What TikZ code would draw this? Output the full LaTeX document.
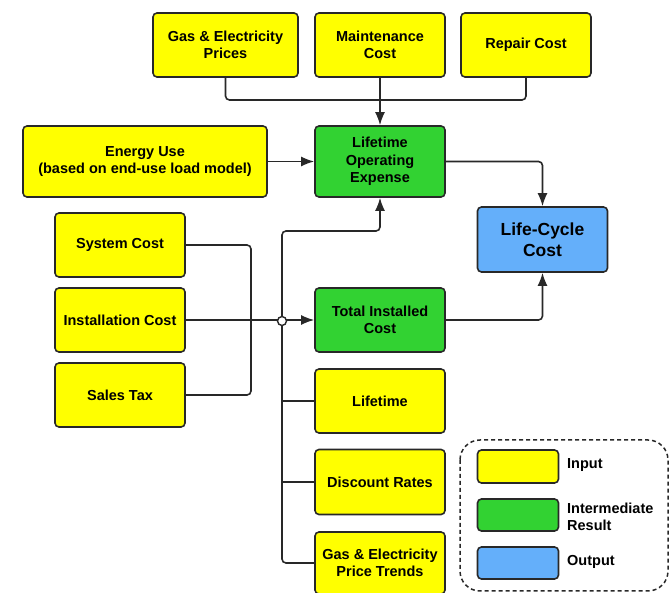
\documentclass[tikz,border=0pt]{standalone}
\usepackage{fontspec}
\setmainfont{Liberation Sans}
\usepackage{xcolor}
\usepackage{tikz}
\usetikzlibrary{arrows.meta}
\usetikzlibrary{calc}

\definecolor{boxyellow}{RGB}{255,255,0}
\definecolor{boxgreen}{RGB}{50,210,50}
\definecolor{boxblue}{RGB}{100,175,250}
\definecolor{boxedge}{RGB}{40,40,40}

\begin{document}
\begin{tikzpicture}[x=1pt, y=-1pt,
	line/.style={>={Latex[length=13pt,width=10pt]}, line width=1.6pt, color=boxedge, rounded corners=4pt},
	box/.style={draw=boxedge, line width=1.6pt, rounded corners=4pt, inner sep=0pt, align=center, font=\fontsize{14.5}{17.5}\selectfont\bfseries, minimum width=130pt, minimum height=64pt},
	input/.style={box, fill=boxyellow},
	inter/.style={box, fill=boxgreen},
	output/.style={box, fill=boxblue},
	keytext/.style={anchor=west, inner sep=0pt, align=left, font=\fontsize{14.5}{17.5}\selectfont\bfseries}]
	\path[use as bounding box, fill=white] (0,0) rectangle (670,593);
	\coordinate (topbus) at (380,100);
	\coordinate (sysjoin) at (251,321);
	\coordinate (hop) at (282,321);
	\coordinate (bustop) at (282,231);
	\node[input, minimum width=145pt] (GasPrice) at (225.5,45) {Gas \& Electricity\\Prices};
	\node[input] (MaintCost) at (380,45) {Maintenance\\Cost};
	\node[input] (RepairCost) at (526,45) {Repair Cost};
	\node[input, minimum width=244pt, minimum height=71pt] (EnergyUse) at (145,161.5) {Energy Use\\(based on end-use load model)};
	\node[inter, minimum height=71pt] (LOE) at (380,161.5) {Lifetime\\Operating\\Expense};
	\node[output, minimum height=65pt, font=\fontsize{17.5}{21}\selectfont\bfseries] (LCC) at (542.5,239.5) {Life-Cycle\\Cost};
	\node[input] (SysCost) at (120,245) {System Cost};
	\node[input] (InstCost) at (120,320) {Installation Cost};
	\node[input] (SalesTax) at (120,395) {Sales Tax};
	\node[inter] (TIC) at (380,320) {Total Installed\\Cost};
	\node[input] (Lifetime) at (380,401) {Lifetime};
	\node[input, minimum height=65pt] (Discount) at (380,482) {Discount Rates};
	\node[input, minimum height=62pt] (Trends) at (380,563) {Gas \& Electricity\\Price Trends};
	% top inputs
	\draw[line] (GasPrice.south) |- (topbus) -| (RepairCost.south);
	\draw[->, line] (MaintCost) -- (LOE);
	\draw[->, line] (EnergyUse) -- (LOE);
	% to life-cycle cost
	\draw[->, line] (LOE.east) -| (LCC.north);
	\draw[->, line] (TIC.east) -| (LCC.south);
	% installed cost
	\draw[line] (SysCost.east) -| (sysjoin) |- (SalesTax.east);
	\draw[->, line] (InstCost) -- (TIC);
	% operating expense bus
	\draw[->, line] (Trends.west) -| (bustop) -| (LOE.south);
	\draw[line] (Lifetime.west) -- (Lifetime.west -| bustop);
	\draw[line] (Discount.west) -- (Discount.west -| bustop);
	\draw[line width=1.4pt, draw=boxedge, fill=white] (hop) circle (4.5);
	% key
	\draw[line width=1.5pt, boxedge, dash pattern=on 4pt off 3pt, rounded corners=20pt] (460,440) rectangle (668,591);
	\node[input, minimum width=81pt, minimum height=33pt] (KeyIn) at (518,466.5) {};
	\node[inter, minimum width=81pt, minimum height=32pt] (KeyMid) at (518,515) {};
	\node[output, minimum width=81pt, minimum height=32pt] (KeyOut) at (518,563) {};
	\node[keytext] (KeyInText) at (567,465) {Input};
	\node[keytext] (KeyMidText) at (567,517) {Intermediate\\Result};
	\node[keytext] (KeyOutText) at (567,562) {Output};
\end{tikzpicture}
\end{document}
